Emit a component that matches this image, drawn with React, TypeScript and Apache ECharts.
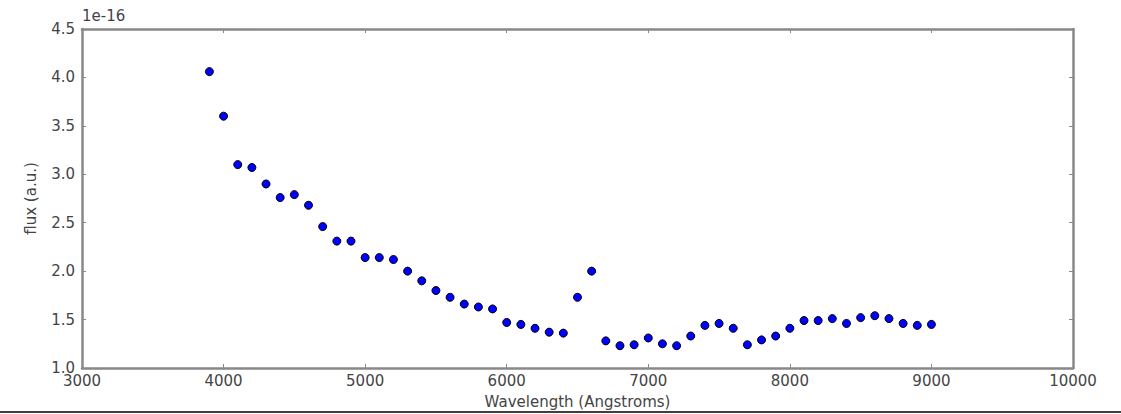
import React, { useEffect, useRef } from "react";
import * as echarts from "echarts";

const wavelengths = [
  3900, 4000, 4100, 4200, 4300, 4400, 4500, 4600, 4700, 4800, 4900, 5000, 5100, 5200, 5300, 5400,
  5500, 5600, 5700, 5800, 5900, 6000, 6100, 6200, 6300, 6400, 6500, 6600, 6700, 6800, 6900, 7000,
  7100, 7200, 7300, 7400, 7500, 7600, 7700, 7800, 7900, 8000, 8100, 8200, 8300, 8400, 8500, 8600,
  8700, 8800, 8900, 9000,
];
const flux = [
  4.06, 3.6, 3.1, 3.07, 2.9, 2.76, 2.79, 2.68, 2.46, 2.31, 2.31, 2.14, 2.14, 2.12, 2.0, 1.9,
  1.8, 1.73, 1.66, 1.63, 1.61, 1.47, 1.45, 1.41, 1.37, 1.36, 1.73, 2.0, 1.28, 1.23, 1.24, 1.31,
  1.25, 1.23, 1.33, 1.44, 1.46, 1.41, 1.24, 1.29, 1.33, 1.41, 1.49, 1.49, 1.51, 1.46, 1.52, 1.54,
  1.51, 1.46, 1.44, 1.45,
];
const xAxisTitle = "Wavelength (Angstroms)";
const yAxisTitle = "flux (a.u.)";
const scaleLabel = "1e-16";

export default function App() {
  const ref = useRef<HTMLDivElement>(null);
  useEffect(() => {
    if (!ref.current) return;
    const chart = echarts.init(ref.current, null, { renderer: "svg" });
    const font = "DejaVu Sans";
    const txt = "#444";
    const axisCol = "#888";
    const hiddenAxis = {
      axisLine: { show: true, lineStyle: { color: axisCol, width: 2.5 } },
      axisTick: { show: true, inside: true, length: 4, lineStyle: { color: axisCol, width: 1 } },
      axisLabel: { show: false },
      splitLine: { show: false },
    };
    chart.setOption({
      animation: false,
      backgroundColor: "#fff",
      grid: { left: 82, right: 48, top: 29, bottom: 45 },
      xAxis: [
        {
          type: "value",
          min: 3000,
          max: 10000,
          interval: 1000,
          position: "bottom",
          name: xAxisTitle,
          nameLocation: "middle",
          nameGap: 26,
          nameTextStyle: { fontFamily: font, fontSize: 15, color: txt },
          axisLine: { show: true, onZero: false, lineStyle: { color: axisCol, width: 2.5 } },
          axisTick: { show: true, inside: true, length: 4, lineStyle: { color: axisCol, width: 1 } },
          axisLabel: {
            fontFamily: font,
            fontSize: 15,
            color: txt,
            margin: 5,
            formatter: (v: number) => String(v),
          },
          splitLine: { show: false },
        },
        { type: "value", min: 3000, max: 10000, interval: 1000, position: "top", ...hiddenAxis },
      ],
      yAxis: [
        {
          type: "value",
          min: 1.0,
          max: 4.5,
          interval: 0.5,
          position: "left",
          name: yAxisTitle,
          nameLocation: "middle",
          nameRotate: 90,
          nameGap: 44,
          nameTextStyle: { fontFamily: font, fontSize: 15, color: txt },
          axisLine: { show: true, onZero: false, lineStyle: { color: axisCol, width: 2.5 } },
          axisTick: { show: true, inside: true, length: 4, lineStyle: { color: axisCol, width: 1 } },
          axisLabel: {
            fontFamily: font,
            fontSize: 15,
            color: txt,
            margin: 7,
            formatter: (v: number) => v.toFixed(1),
          },
          splitLine: { show: false },
        },
        { type: "value", min: 1.0, max: 4.5, interval: 0.5, position: "right", ...hiddenAxis },
      ],
      graphic: [
        {
          type: "text",
          left: 82,
          top: 8,
          style: { text: scaleLabel, fontFamily: font, fontSize: 15, fill: txt },
        },
        {
          type: "line",
          shape: { x1: 0, y1: 412, x2: 1121, y2: 412 },
          style: { stroke: "#000", lineWidth: 1.5 },
        },
      ],
      series: [
        {
          type: "scatter",
          data: wavelengths.map((w, i) => [w, flux[i]]),
          symbol: "circle",
          symbolSize: 8,
          itemStyle: { color: "#0000ff", opacity: 1, borderColor: "#000", borderWidth: 1 },
        },
      ],
    });
    return () => chart.dispose();
  }, []);
  return (
    <div
      ref={ref}
      style={{ position: "fixed", left: 0, top: 0, width: 1121, height: 414 }}
    />
  );
}
